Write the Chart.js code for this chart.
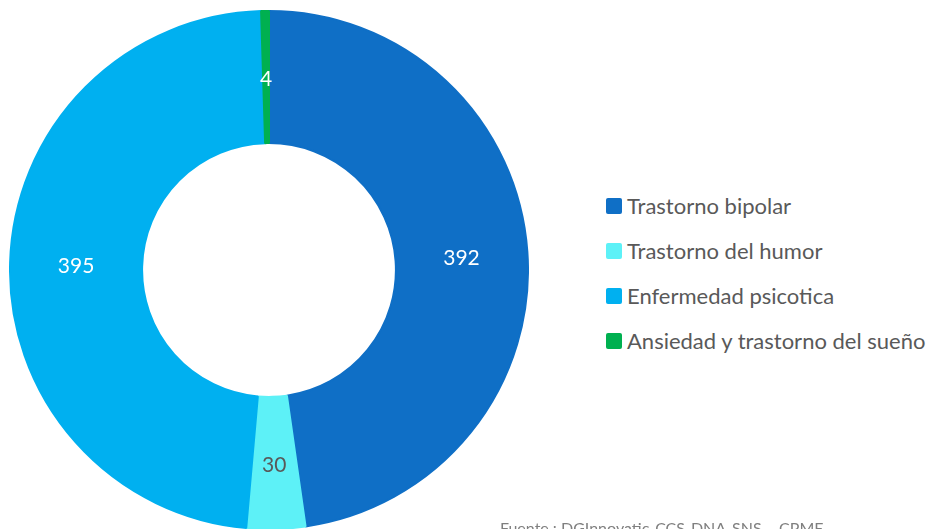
<!DOCTYPE html>
<html>
<head>
<meta charset="utf-8">
<script src="https://cdn.jsdelivr.net/npm/chart.js@4/dist/chart.umd.min.js"></script>
<style>
    html, body { margin: 0; padding: 0; background: #fff; overflow: hidden; }
    body { width: 930px; height: 529px; position: relative; font-family: Lato, "Open Sans", sans-serif; }
    #wrap { position: absolute; left: 9px; top: 10px; width: 520px; height: 520px; }
    #legend { position: absolute; left: 606px; top: 183px; }
    .item { display: flex; align-items: center; height: 45px; font-size: 22px; color: #595959; }
    .box { width: 16px; height: 16px; border-radius: 2px; margin-right: 5px; }
    #source { position: absolute; left: 500px; top: 518px; font-size: 16px; color: #7f7f7f; white-space: nowrap; }
</style>
</head>
<body>
<div id="wrap"><canvas id="donut"></canvas></div>
<div id="legend"></div>
<div id="source">Fuente : DGInnovatic-CCS-DNA-SNS – CPME</div>
<script>
const labels = ['Trastorno bipolar', 'Trastorno del humor', 'Enfermedad psicotica', 'Ansiedad y trastorno del sueño'];
const values = [392, 30, 395, 4];
const colors = ['#0F6FC6', '#5DF1F7', '#00B0F0', '#00B050'];
const labelColors = ['#ffffff', '#595959', '#ffffff', '#ffffff'];

const sliceLabels = {
    id: 'sliceLabels',
    afterDatasetsDraw(chart) {
        const ctx = chart.ctx;
        const meta = chart.getDatasetMeta(0);
        ctx.save();
        ctx.font = '21px Lato, "Open Sans", sans-serif';
        ctx.textAlign = 'center';
        ctx.textBaseline = 'middle';
        meta.data.forEach((arc, i) => {
            const p = arc.tooltipPosition();
            ctx.fillStyle = labelColors[i];
            ctx.fillText(String(values[i]), p.x, p.y + 2);
        });
        ctx.restore();
    }
};

new Chart(document.getElementById('donut'), {
    type: 'doughnut',
    data: { labels: labels, datasets: [{ data: values, backgroundColor: colors, borderColor: colors, borderWidth: 2 }] },
    options: {
        responsive: true,
        maintainAspectRatio: false,
        animation: false,
        cutout: '49%',
        layout: { padding: 0 },
        plugins: { legend: { display: false }, tooltip: { enabled: false } }
    },
    plugins: [sliceLabels]
});

const legend = document.getElementById('legend');
labels.forEach((l, i) => {
    const row = document.createElement('div');
    row.className = 'item';
    row.innerHTML = '<span class="box" style="background:' + colors[i] + '"></span>' + l;
    legend.appendChild(row);
});
</script>
</body>
</html>
